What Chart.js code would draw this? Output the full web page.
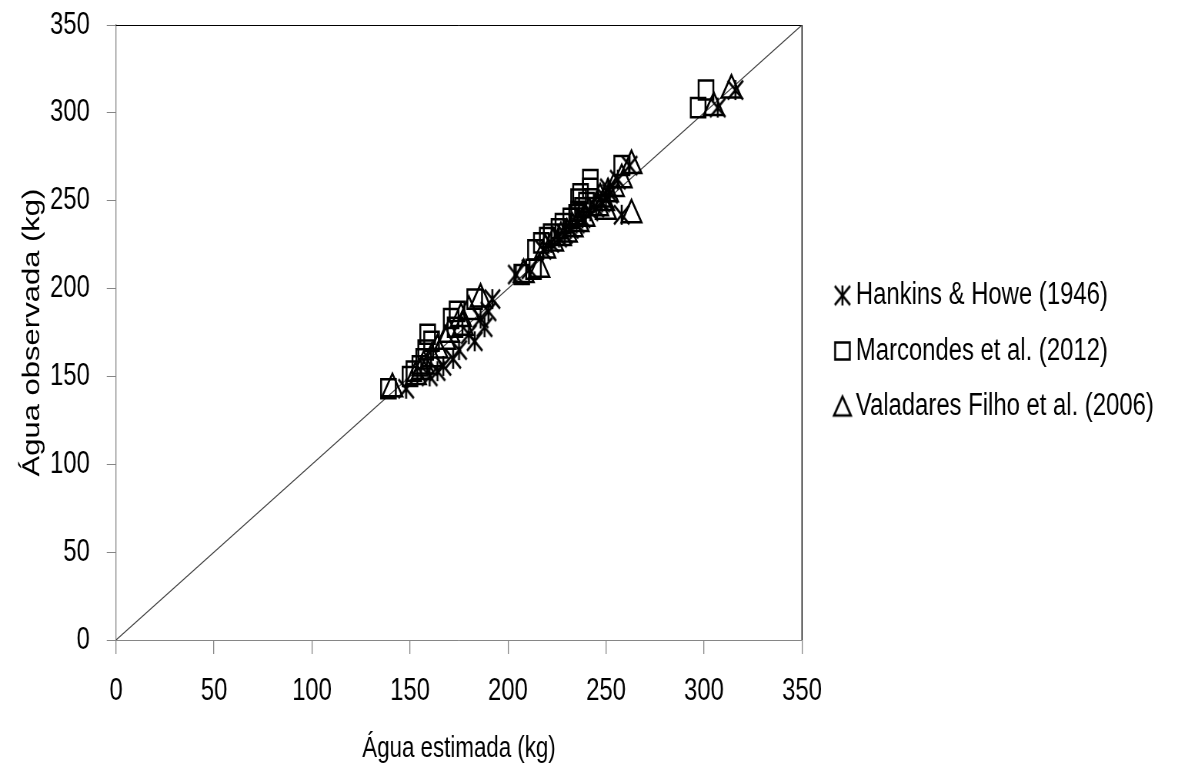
<!DOCTYPE html>
<html>
<head>
<meta charset="utf-8">
<script src="https://cdn.jsdelivr.net/npm/chart.js@4/dist/chart.umd.min.js"></script>
<style>
  html, body { margin: 0; background: #fff; overflow: hidden; }
  #wrap { width: 1178px; height: 766px; overflow: hidden; }
  /* chart is drawn wide then squeezed, the original has narrow, tall lettering */
  canvas { display: block; transform: scaleX(0.76944); transform-origin: 0 0; }
</style>
</head>
<body>
<div id="wrap"><canvas id="chart" width="1531" height="766"></canvas></div>
<script>
// observed water (kg) and the estimates of each equation
const observed = [143, 150, 153, 156, 160, 165, 170, 174, 178, 183, 187, 194,
  208, 211, 222, 226, 229, 231, 234, 237, 240, 242, 244, 246, 249, 251, 254, 257, 262, 270,
  303, 313]
const hankins = [148, 160, 164, 167, 172, 175, 183, 180, 188, 186, 190, 192,
  204, 211, 218, 222, 226, 229, 232, 235, 238, 258, 242, 245, 248, 250, 252, 251, 256, 262,
  307, 316]
const marcondes = [139, 150, 152, 155, 157, 158, 161, 159, 173, 171, 174, 183,
  207, 213, 214, 217, 220, 222, 226, 228, 232, 235, 236, 238, 240, 236, 237, 242, 242, 258,
  297, 301]
const valadares = [141, 153, 156, 157, 161, 164, 168, 170, 177, 176, 180, 186,
  208, 216, 219, 223, 227, 230, 233, 236, 239, 263, 250, 246, 249, 247, 251, 254, 258, 263,
  305, 314]
const seriesNames = ['Hankins & Howe (1946)', 'Marcondes et al. (2012)', 'Valadares Filho et al. (2006)']
const axisTicks = [0, 50, 100, 150, 200, 250, 300, 350]
const identityLine = [0, 350]

const SX = 1531 / 1178          // horizontal stretch of the canvas
const targetRight = 802 * SX    // right edge of plot area in canvas px
const font = '"Liberation Sans", Arial, sans-serif'

// excel style star marker: an X with a vertical bar
function drawStar(g, cx, cy){
  g.moveTo(cx - 10, cy - 9.5); g.lineTo(cx + 10, cy + 9.5)
  g.moveTo(cx + 10, cy - 9.5); g.lineTo(cx - 10, cy + 9.5)
  g.moveTo(cx, cy - 10); g.lineTo(cx, cy + 10)
}
function icon(w, h, draw){
  const c = document.createElement('canvas')
  c.width = w; c.height = h
  const g = c.getContext('2d')
  g.strokeStyle = '#000'
  g.lineWidth = 2.6
  g.beginPath()
  draw(g)
  g.stroke()
  return c
}
const starMarker = icon(26, 24, g => drawStar(g, 13, 12))

// legend icons, marker sits right of centre so it lands close to the text
const legendIcons = [
  icon(64, 26, g => drawStar(g, 45, 13)),
  icon(64, 26, g => g.rect(45 - 9.5, 13 - 8.5, 19, 17)),
  icon(64, 26, g => { g.moveTo(45, 3); g.lineTo(56, 22); g.lineTo(34, 22); g.closePath() })
]

const pairs = est => est.map((x, i) => ({x: x, y: observed[i]}))

// black frame on top and right of the plot area
const frame = {
  id: 'frame',
  beforeDatasetsDraw(chart){
    const {ctx, chartArea: a} = chart
    ctx.save()
    ctx.strokeStyle = '#000'
    ctx.beginPath()
    ctx.lineWidth = 1
    ctx.moveTo(a.left, a.top + 0.5); ctx.lineTo(a.right, a.top + 0.5)
    ctx.stroke()
    ctx.beginPath()
    ctx.lineWidth = 1.4
    ctx.moveTo(a.right, a.top); ctx.lineTo(a.right, a.bottom)
    ctx.stroke()
    ctx.restore()
  }
}

const axisCommon = {
  type: 'linear', min: 0, max: 350,
  afterBuildTicks: s => { s.ticks = axisTicks.map(v => ({value: v})) },
}

const chart = new Chart(document.getElementById('chart'), {
  type: 'scatter',
  data: {
    datasets: [
      {label: seriesNames[0], data: pairs(hankins), pointStyle: starMarker, pointRadius: 11,
        borderColor: '#000', backgroundColor: 'rgba(0,0,0,0)'},
      {label: seriesNames[1], data: pairs(marcondes), pointStyle: 'rect', pointRadius: 13.5, borderWidth: 2.5,
        borderColor: '#000', backgroundColor: 'rgba(0,0,0,0)'},
      {label: seriesNames[2], data: pairs(valadares), pointStyle: 'triangle', pointRadius: 15, borderWidth: 2.5,
        borderColor: '#000', backgroundColor: 'rgba(0,0,0,0)'},
      {label: '1:1', data: identityLine.map(v => ({x: v, y: v})), showLine: true, pointRadius: 0,
        borderColor: '#404040', borderWidth: 1.2}
    ]
  },
  options: {
    responsive: false,
    animation: false,
    layout: {padding: {top: 25, left: 0, right: 0, bottom: 0}},
    plugins: {
      tooltip: {enabled: false},
      legend: {
        position: 'right',
        align: 'start',
        maxWidth: 700,
        title: {display: true, text: ' ', font: {size: 10}, padding: {top: 218.5, bottom: 0}},
        labels: {
          usePointStyle: true, boxWidth: 30, boxHeight: 30, padding: 24.5,
          color: '#000', font: {family: font, size: 31},
          generateLabels: c => Chart.defaults.plugins.legend.labels.generateLabels(c)
            .filter(it => it.datasetIndex < 3)
            .map(it => Object.assign(it, {pointStyle: legendIcons[it.datasetIndex]}))
        }
      }
    },
    scales: {
      x: Object.assign({}, axisCommon, {
        position: 'bottom',
        afterFit: s => { s.height = 126 },
        border: {display: true, color: '#868686', width: 1},
        grid: {display: true, drawOnChartArea: false, drawTicks: true, tickLength: 14, color: '#868686', lineWidth: 1.3},
        ticks: {color: '#000', font: {family: font, size: 31}, padding: 19, maxRotation: 0},
        title: {display: true, text: 'Água estimada (kg)', color: '#000',
          font: {family: font, size: 29}, padding: {top: 0, bottom: 0}}
      }),
      y: Object.assign({}, axisCommon, {
        position: 'left',
        afterFit: s => { s.width = 116 * SX; s.paddingTop = 0; s.paddingBottom = 0 },
        border: {display: true, color: '#868686', width: 1.3},
        grid: {display: true, drawOnChartArea: false, drawTicks: true, tickLength: 12, color: '#868686', lineWidth: 1},
        ticks: {color: '#000', font: {family: font, size: 31}, padding: 22},
        title: {display: true, text: 'Água observada (kg)', color: '#000',
          font: {family: font, size: 31}, padding: {top: 24, bottom: 0}}
      })
    }
  },
  plugins: [frame]
})

// line the plot area's right edge up with the original
const dx = chart.chartArea.right - targetRight
if(dx > 0.5){
  chart.options.layout.padding.right = dx
  chart.update()
}
</script>
</body>
</html>
